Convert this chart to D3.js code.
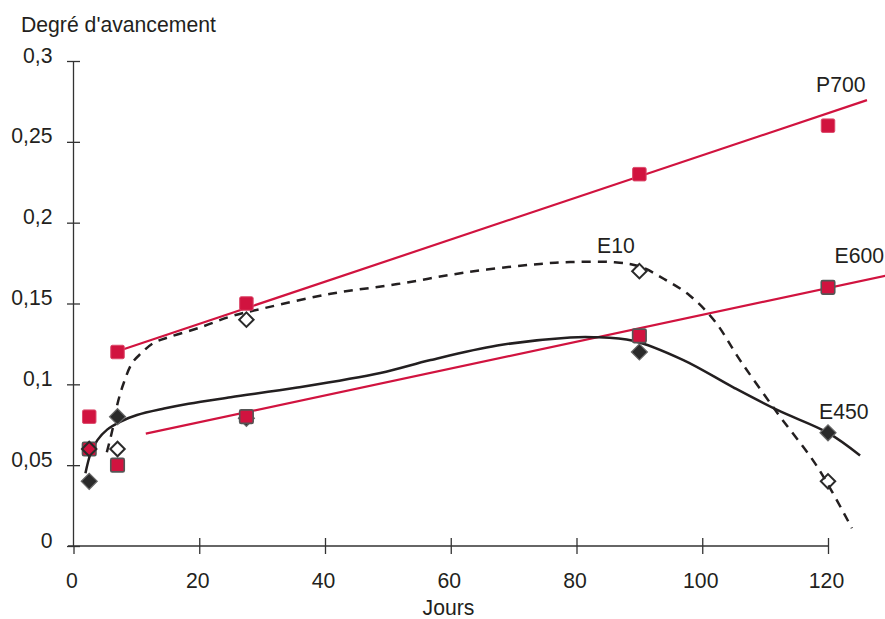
<!DOCTYPE html>
<html lang="fr">
<head>
<meta charset="utf-8">
<title>Degré d'avancement</title>
<script src="https://cdn.jsdelivr.net/npm/d3@7/dist/d3.min.js"></script>
<style>
  html, body { margin: 0; padding: 0; background: #fff; }
  svg { display: block; }
  text { font-family: "Liberation Sans", Arial, Helvetica, sans-serif; fill: #231f20; }
</style>
</head>
<body>
<svg id="chart" width="885" height="619"></svg>
<script>
// Measurement days
const days = [2.5, 7, 27.5, 90, 120];

// Measured degree of progress for each sample
const p700 = [0.08, 0.12, 0.15, 0.23, 0.26];
const e600 = [0.06, 0.05, 0.08, 0.13, 0.16];
const e450 = [0.04, 0.08, 0.079, 0.12, 0.07];
const e10  = [0.06, 0.06, 0.14, 0.17, 0.04];

// Linear trend lines (start and end points)
const p700Trend = [[7, 0.1205], [126.2, 0.2758]];
const e600Trend = [[11.5, 0.0695], [129.5, 0.1675]];

// Smoothed trend curves
const e450Curve = [
  [1.9, 0.045], [2.7, 0.057], [3.8, 0.0655], [5.35, 0.072], [7.5, 0.077],
  [10.1, 0.081], [14.4, 0.085], [18.3, 0.088], [25, 0.092], [35.6, 0.098],
  [48.8, 0.107], [56.8, 0.115], [67.4, 0.124], [79, 0.129], [82.7, 0.1292],
  [89, 0.127], [97, 0.115], [105, 0.098], [112, 0.084], [120, 0.070], [125.1, 0.056]
];
const e10Curve = [
  [5.3, 0.058], [6.2, 0.072], [7.0, 0.088], [8.0, 0.101], [9.3, 0.113],
  [10.7, 0.119], [12.7, 0.1255], [15.4, 0.1295], [20, 0.135], [25, 0.142],
  [30.2, 0.147], [40.9, 0.156], [51.5, 0.162], [62, 0.169], [72.7, 0.174],
  [79, 0.1756], [86, 0.1755], [90, 0.173], [94, 0.165], [98, 0.155],
  [102, 0.139], [106, 0.115], [112, 0.082], [118.3, 0.049], [123.8, 0.011]
];

// Axis ticks
const xTicks = [0, 20, 40, 60, 80, 100, 120];
const xTickLabels = ["0", "20", "40", "60", "80", "100", "120"];
const yTicks = [0, 0.05, 0.1, 0.15, 0.2, 0.25, 0.3];
const yTickLabels = ["0", "0,05", "0,1", "0,15", "0,2", "0,25", "0,3"];

const RED = "#d1133f";
const INK = "#231f20";
const AXIS = "#333";
const FS = 21.2;

const svg = d3.select("#chart");
const x = d3.scaleLinear().domain([0, 120]).range([73.5, 828]);
const y = d3.scaleLinear().domain([0, 0.3]).range([546, 61]);

// ---- axes ----
const yAxis = svg.append("g")
  .attr("transform", `translate(${x(0)},0)`)
  .call(d3.axisLeft(y)
    .tickValues(yTicks)
    .tickFormat((d, i) => yTickLabels[i])
    .tickSize(6.5)
    .tickPadding(0));
yAxis.select(".domain").remove();
yAxis.selectAll(".tick line").attr("x1", -6.5).attr("x2", 6.5)
  .attr("stroke", AXIS).attr("stroke-width", 1.3);
yAxis.selectAll(".tick text")
  .attr("x", -21).attr("dy", 0).attr("y", 1)
  .attr("font-size", FS).attr("fill", INK);
yAxis.append("line")
  .attr("y1", y(0.3)).attr("y2", y(0))
  .attr("stroke", AXIS).attr("stroke-width", 1.3);

const xAxis = svg.append("g")
  .attr("transform", `translate(0,${y(0)})`)
  .call(d3.axisBottom(x)
    .tickValues(xTicks)
    .tickFormat((d, i) => xTickLabels[i])
    .tickSize(8)
    .tickPadding(0));
xAxis.select(".domain").remove();
xAxis.selectAll(".tick line")
  .attr("y1", d => d === 0 ? 0 : -8).attr("y2", 8)
  .attr("stroke", AXIS).attr("stroke-width", 1.3);
xAxis.selectAll(".tick text")
  .attr("x", -2).attr("y", 42).attr("dy", 0)
  .attr("font-size", FS).attr("fill", INK);
xAxis.append("line")
  .attr("x1", x(0) - 5.5).attr("x2", x(120))
  .attr("stroke", AXIS).attr("stroke-width", 1.3);

// ---- titles ----
svg.append("text").attr("x", 21).attr("y", 31.5)
  .attr("font-size", FS).text("Degré d'avancement");
svg.append("text").attr("x", 448.5).attr("y", 615)
  .attr("text-anchor", "middle").attr("font-size", FS).text("Jours");

// ---- lines ----
const line = d3.line().x(d => x(d[0])).y(d => y(d[1]));
const smooth = d3.line().x(d => x(d[0])).y(d => y(d[1])).curve(d3.curveCatmullRom.alpha(0.5));

svg.append("path").attr("d", line(p700Trend))
  .attr("fill", "none").attr("stroke", RED).attr("stroke-width", 2.2);
svg.append("path").attr("d", line(e600Trend))
  .attr("fill", "none").attr("stroke", RED).attr("stroke-width", 2.2);
svg.append("path").attr("d", smooth(e450Curve))
  .attr("fill", "none").attr("stroke", INK).attr("stroke-width", 2.5);
svg.append("path").attr("d", smooth(e10Curve))
  .attr("fill", "none").attr("stroke", INK).attr("stroke-width", 2.5)
  .attr("stroke-dasharray", "9,7");

// ---- markers ----
const pts = vals => days.map((d, i) => [d, vals[i]]);
const S = 13.5;

// E450: filled diamonds (drawn beneath the squares)
svg.append("g").selectAll("path").data(pts(e450)).join("path")
  .attr("d", d3.symbol().type(d3.symbolSquare).size(128))
  .attr("transform", d => `translate(${x(d[0])},${y(d[1])}) rotate(45)`)
  .attr("fill", "#2a2a2a").attr("stroke", "#666").attr("stroke-width", 1.2);

// P700: red squares
svg.append("g").selectAll("rect").data(pts(p700)).join("rect")
  .attr("x", d => x(d[0]) - S / 2).attr("y", d => y(d[1]) - S / 2)
  .attr("width", S).attr("height", S).attr("rx", 1.5)
  .attr("fill", RED).attr("stroke", "#dc4a6b").attr("stroke-width", 1);

// E600: red squares with grey outline
svg.append("g").selectAll("rect").data(pts(e600)).join("rect")
  .attr("x", d => x(d[0]) - S / 2).attr("y", d => y(d[1]) - S / 2)
  .attr("width", S).attr("height", S).attr("rx", 1.5)
  .attr("fill", RED).attr("stroke", "#555").attr("stroke-width", 1.6);

// E10: open diamonds
svg.append("g").selectAll("path").data(pts(e10)).join("path")
  .attr("d", d3.symbol().type(d3.symbolSquare).size(104))
  .attr("transform", d => `translate(${x(d[0])},${y(d[1])}) rotate(45)`)
  .attr("fill", "none").attr("stroke", "#2a2a2a").attr("stroke-width", 2);

// ---- series labels ----
const seriesLabels = [
  { text: "P700", x: 816, y: 92 },
  { text: "E10",  x: 597, y: 253 },
  { text: "E600", x: 834.5, y: 263 },
  { text: "E450", x: 819, y: 419 }
];
svg.append("g").selectAll("text").data(seriesLabels).join("text")
  .attr("x", d => d.x).attr("y", d => d.y)
  .attr("font-size", FS).text(d => d.text);
</script>
</body>
</html>
